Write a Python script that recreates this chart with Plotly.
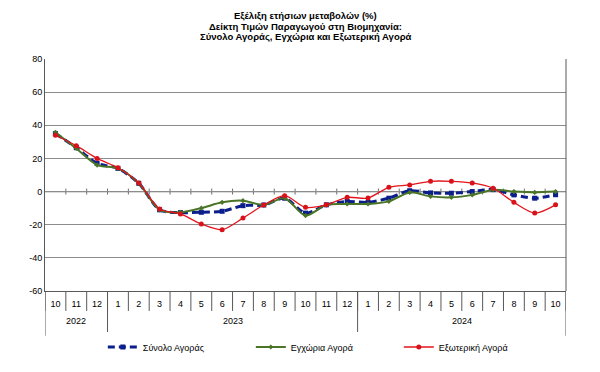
import plotly.graph_objects as go

years = ["2022"] * 3 + ["2023"] * 12 + ["2024"] * 10
months = ["10", "11", "12"] + [str(m) for m in range(1, 13)] + [str(m) for m in range(1, 11)]
year_labels = ["2022", "2023", "2024"]
y_ticks = [80, 60, 40, 20, 0, -20, -40, -60]

total = [35, 26.5, 17, 14, 5, -11, -12.7, -12.5, -11.9, -8.5, -8.1, -4, -13, -8, -6,
         -6.5, -4, 0.5, -0.8, -1, 0, 1.2, -2, -4, -1.9]
domestic = [35.8, 26, 16, 14, 5, -11, -12.5, -10, -6.5, -5.5, -8.1, -4, -14.5, -8, -7.5,
            -7.5, -5.9, -0.5, -2.9, -3.5, -2, 1, 0, -0.5, 0]
external = [34, 27.7, 20, 14.4, 5.2, -10.5, -13.5, -19.6, -23, -16, -8.1, -2.5, -9.5, -8, -3.5,
            -3.9, 2.6, 4, 6.2, 6.2, 5.2, 2, -6.5, -13, -8]

names = ["Σύνολο Αγοράς", "Εγχώρια Αγορά", "Εξωτερική Αγορά"]
title_lines = ["Εξέλιξη ετήσιων μεταβολών (%)",
               "Δείκτη Τιμών Παραγωγού στη Βιομηχανία:",
               "Σύνολο Αγοράς, Εγχώρια και Εξωτερική Αγορά"]

n = len(months)
xs = list(range(n))
AXIS = "#595959"

fig = go.Figure()
fig.add_trace(go.Scatter(x=xs, y=total, name=names[0], mode="lines+markers",
                         line=dict(color="#0A1E8C", width=3, dash="7px,4px", shape="spline", smoothing=0.8),
                         marker=dict(symbol="square", size=5, color="#0A1E8C")))
fig.add_trace(go.Scatter(x=xs, y=domestic, name=names[1], mode="lines+markers",
                         line=dict(color="#4A7526", width=2, shape="spline", smoothing=0.8),
                         marker=dict(symbol="diamond", size=4, color="#4A7526")))
fig.add_trace(go.Scatter(x=xs, y=external, name=names[2], mode="lines+markers",
                         line=dict(color="#E3141C", width=1.3, shape="spline", smoothing=0.8),
                         marker=dict(symbol="circle", size=5, color="#D9121A")))

shapes = []
# zero line with small cross ticks at month boundaries
shapes.append(dict(type="line", xref="paper", yref="y", x0=0, x1=1, y0=0, y1=0,
                   line=dict(color="#707070", width=1.2), layer="below"))
for i in range(1, n):
    shapes.append(dict(type="line", xref="x", yref="y", x0=i - 0.5, x1=i - 0.5, y0=-1.8, y1=1.8,
                       line=dict(color="#707070", width=1), layer="below"))
# month separators below axis
for i in range(0, n + 1):
    shapes.append(dict(type="line", xref="x", yref="paper", x0=i - 0.5, x1=i - 0.5, y0=0, y1=-0.086,
                       line=dict(color=AXIS, width=1)))
# year dividers and year labels
annotations = []
bounds = [-0.5]
for yl in year_labels:
    idx = [i for i, y in enumerate(years) if y == yl]
    bounds.append(idx[-1] + 0.5)
    annotations.append(dict(x=(idx[0] + idx[-1]) / 2, y=-0.129, xref="x", yref="paper",
                            text=yl, showarrow=False, font=dict(size=9), yanchor="middle"))
for b in bounds:
    shapes.append(dict(type="line", xref="x", yref="paper", x0=b, x1=b, y0=0, y1=-0.193,
                       line=dict(color=AXIS, width=1)))
# right border
shapes.append(dict(type="line", xref="paper", yref="paper", x0=1, x1=1, y0=0, y1=1,
                   line=dict(color=AXIS, width=1)))

for line, yp in zip(title_lines, [1.186, 1.142, 1.099]):
    annotations.append(dict(x=0.5, y=yp, xref="paper", yref="paper", text="<b>" + line + "</b>",
                            showarrow=False, font=dict(size=9.5), yanchor="middle"))

# page body has an 8px default margin, so the figure is sized to fit inside the window
fig.update_layout(
    width=592, height=364,
    margin=dict(l=37, r=34, t=51, b=80),
    plot_bgcolor="white", paper_bgcolor="white",
    font=dict(family="Liberation Sans, Arial, sans-serif", size=9, color="#000000"),
    showlegend=True,
    legend=dict(orientation="h", x=0.111, xanchor="left", y=-0.236, yanchor="middle",
                font=dict(size=9), entrywidth=103, itemwidth=30),
    shapes=shapes,
    annotations=annotations,
    xaxis=dict(range=[-0.5, n - 0.5], tickvals=xs, ticktext=months, showgrid=False,
               showline=True, linecolor=AXIS, ticks="outside", ticklen=4,
               tickcolor="rgba(0,0,0,0)", zeroline=False, tickfont=dict(size=9)),
    yaxis=dict(range=[-60, 80], tickvals=y_ticks, ticktext=[str(v) for v in y_ticks],
               showgrid=True, gridcolor="#8C8C8C", gridwidth=1,
               showline=True, linecolor=AXIS, zeroline=False, ticks="",
               tickfont=dict(size=9)),
)
fig.write_html("out.html")
